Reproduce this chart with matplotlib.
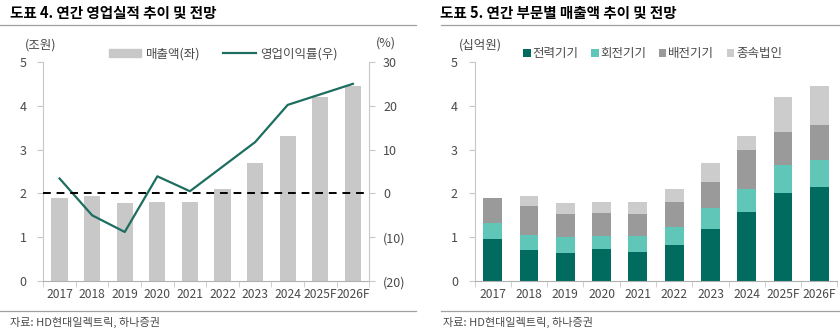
import numpy as np
import matplotlib.pyplot as plt
from matplotlib.lines import Line2D

plt.rcParams['font.family'] = ['Noto Sans CJK KR', 'DejaVu Sans']

# 데이터
years = ['2017', '2018', '2019', '2020', '2021', '2022', '2023', '2024', '2025F', '2026F']
sales = [1.90, 1.94, 1.77, 1.80, 1.80, 2.11, 2.70, 3.32, 4.20, 4.45]        # 조원
op_margin = [3.4, -5.0, -8.8, 3.9, 0.5, 6.1, 11.7, 20.2, 22.6, 25.0]       # %

power = [0.96, 0.70, 0.65, 0.72, 0.67, 0.82, 1.19, 1.58, 2.02, 2.15]      # 전력기기
rotating = [0.36, 0.35, 0.36, 0.30, 0.36, 0.42, 0.48, 0.52, 0.62, 0.62]   # 회전기기
distrib = [0.58, 0.66, 0.52, 0.53, 0.50, 0.56, 0.60, 0.88, 0.75, 0.78]    # 배전기기
subsid = [0.00, 0.23, 0.24, 0.25, 0.27, 0.31, 0.42, 0.34, 0.81, 0.90]     # 종속법인

c_line = '#1d6e60'
c_power = '#006b5e'
c_rot = '#5fc6b8'
c_dist = '#9a9a9a'
c_sub = '#cccccc'
axis_gray = '#c8c8c8'
txt = '#4a4a4a'

fig = plt.figure(figsize=(8.4, 3.33), dpi=100)
x = np.arange(len(years))


def style_axes(ax):
    for s in ['top', 'right']:
        ax.spines[s].set_visible(False)
    ax.spines['left'].set_color(axis_gray)
    ax.spines['bottom'].set_color('#b0b0b0')
    ax.set_xlim(-0.5, len(years) - 0.5)
    ax.set_ylim(0, 5)
    ax.set_yticks(range(0, 6))
    ax.set_xticks(x)
    ax.set_xticklabels(years)
    ax.set_xticks(np.arange(-0.5, len(years), 1), minor=True)
    ax.tick_params(axis='x', which='major', length=0, labelsize=8.7, colors=txt, pad=5)
    ax.tick_params(axis='x', which='minor', length=4, color=axis_gray)
    ax.tick_params(axis='y', length=4, color=axis_gray, labelsize=9, labelcolor=txt, pad=8)


# 도표 4
ax1 = fig.add_axes([0.0515, 0.156, 0.388, 0.658])
style_axes(ax1)
ax1.bar(x, sales, width=0.5, color='#c8c8c8')
ax2 = ax1.twinx()
ax2.plot(x, op_margin, color=c_line, lw=1.6)
ax2.axhline(0, color='black', ls=(0, (4, 3)), lw=1.4)
ax2.set_ylim(-20, 30)
ax2.set_yticks([-20, -10, 0, 10, 20, 30])
ax2.set_yticklabels(['(20)', '(10)', '0', '10', '20', '30'])
for s in ['top', 'left', 'bottom']:
    ax2.spines[s].set_visible(False)
ax2.spines['right'].set_color(axis_gray)
ax2.tick_params(axis='y', length=4, color=axis_gray, labelsize=9, labelcolor=txt, pad=6)

handles = [plt.Rectangle((0, 0), 1, 1, color='#c8c8c8'), Line2D([], [], color=c_line, lw=1.6)]
ax1.legend(handles, ['매출액(좌)', '영업이익률(우)'], ncol=2, frameon=False,
           loc='lower left', bbox_to_anchor=(0.185, 0.985), fontsize=9,
           handlelength=2.6, handleheight=0.6, columnspacing=1.8, handletextpad=0.4,
           labelcolor=txt, borderaxespad=0)
fig.text(0.030, 0.855, '(조원)', fontsize=9, color=txt)
fig.text(0.448, 0.860, '(%)', fontsize=9, color=txt)

# 도표 5
ax3 = fig.add_axes([0.565, 0.156, 0.432, 0.658])
style_axes(ax3)
bottom = np.zeros(len(years))
for vals, col, lab in [(power, c_power, '전력기기'), (rotating, c_rot, '회전기기'),
                       (distrib, c_dist, '배전기기'), (subsid, c_sub, '종속법인')]:
    ax3.bar(x, vals, bottom=bottom, width=0.52, color=col, label=lab)
    bottom += np.array(vals)
ax3.legend(ncol=4, frameon=False, loc='lower left', bbox_to_anchor=(0.12, 0.985),
           fontsize=9, handlelength=0.6, handleheight=0.6, handletextpad=0.15,
           columnspacing=1.0, labelcolor=txt, borderaxespad=0)
fig.text(0.546, 0.855, '(십억원)', fontsize=9, color=txt)

# 제목, 구분선, 출처
fig.text(0.012, 0.962, '도표 4. 연간 영업실적 추이 및 전망', fontsize=10.5, weight='bold', va='center')
fig.text(0.524, 0.962, '도표 5. 연간 부문별 매출액 추이 및 전망', fontsize=10.5, weight='bold', va='center')
fig.add_artist(Line2D([0.0, 0.495], [0.925, 0.925], color='#a0a0a0', lw=0.9))
fig.add_artist(Line2D([0.525, 1.0], [0.925, 0.925], color='#a0a0a0', lw=0.9))
fig.add_artist(Line2D([0.0, 0.495], [0.067, 0.067], color='#a0a0a0', lw=0.9))
fig.add_artist(Line2D([0.525, 1.0], [0.067, 0.067], color='#a0a0a0', lw=0.9))
fig.text(0.012, 0.033, '자료: HD현대일렉트릭, 하나증권', fontsize=8, color=txt, va='center')
fig.text(0.527, 0.033, '자료: HD현대일렉트릭, 하나증권', fontsize=8, color=txt, va='center')

fig.savefig('out.png', dpi=100)
